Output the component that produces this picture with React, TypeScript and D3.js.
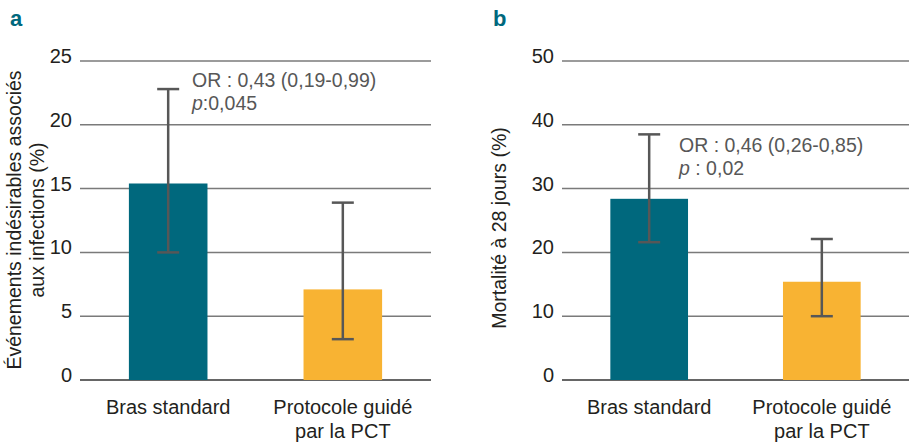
import React from 'react';
import * as d3 from 'd3';

const categories = ['Bras standard', 'Protocole guidé|par la PCT'];
const colors = ['#00687d', '#f8b333'];

const valuesA = [15.4, 7.1];
const lowA = [10.0, 3.2];
const highA = [22.8, 13.9];
const ticksA = [0, 5, 10, 15, 20, 25];

const valuesB = [28.4, 15.4];
const lowB = [21.6, 10.0];
const highB = [38.5, 22.1];
const ticksB = [0, 10, 20, 30, 40, 50];

const FONT = '"Liberation Sans", Arial, Helvetica, sans-serif';
const TEXT = '#231f20';
const GREY = '#575757';

type PanelProps = {
  letter: string;
  letterX: number;
  x0: number;
  x1: number;
  values: number[];
  low: number[];
  high: number[];
  ticks: number[];
  titleLines: string[];
  titleX: number;
  titleY: number;
  note: string[];
  noteX: number;
  noteY: number;
};

function Panel(p: PanelProps) {
  const x = d3.scaleBand().domain(categories).range([p.x0, p.x1]).paddingInner(0.55).paddingOuter(0.28);
  const y = d3.scaleLinear().domain([0, d3.max(p.ticks) as number]).range([380, 61]);
  const cap = 11;

  return (
    <g fontFamily={FONT}>
      <text x={p.letterX} y={26} fill="#00687d" fontSize={22} fontWeight="bold">{p.letter}</text>
      {p.ticks.map(t => (
        <g key={t}>
          <line x1={p.x0} x2={p.x1} y1={y(t)} y2={y(t)} stroke={t === 0 ? '#333' : '#7a7a7a'} strokeWidth={1.5} />
          <text x={p.x0 - 8} y={y(t)} dy="0.1em" textAnchor="end" fontSize={20} fill={TEXT}>{t}</text>
        </g>
      ))}
      {categories.map((c, i) => {
        const bx = x(c) as number;
        const cx = bx + x.bandwidth() / 2;
        return (
          <g key={c}>
            <rect x={bx} y={y(p.values[i])} width={x.bandwidth()} height={y(0) - y(p.values[i])} fill={colors[i]} />
            <line x1={cx} x2={cx} y1={y(p.high[i])} y2={y(p.low[i])} stroke={GREY} strokeWidth={2.5} />
            <line x1={cx - cap} x2={cx + cap} y1={y(p.high[i])} y2={y(p.high[i])} stroke={GREY} strokeWidth={2.5} />
            <line x1={cx - cap} x2={cx + cap} y1={y(p.low[i])} y2={y(p.low[i])} stroke={GREY} strokeWidth={2.5} />
            {c.split('|').map((l, j) => (
              <text key={j} x={cx} y={414 + j * 24} textAnchor="middle" fontSize={20} fill={TEXT}>{l}</text>
            ))}
          </g>
        );
      })}
      <text transform={`translate(${p.titleX},${p.titleY}) rotate(-90)`} textAnchor="middle" fontSize={19.5} fill={TEXT}>
        {p.titleLines.map((l, j) => (
          <tspan key={j} x={0} dy={j === 0 ? 0 : 23}>{l}</tspan>
        ))}
      </text>
      <text x={p.noteX} y={p.noteY} fontSize={19.5} fill={GREY}>{p.note[0]}</text>
      <text x={p.noteX} y={p.noteY + 23} fontSize={19.5} fill={GREY}>
        <tspan fontStyle="italic">p</tspan>{p.note[1]}
      </text>
    </g>
  );
}

export default function App() {
  return (
    <svg width={909} height={443} style={{ position: 'absolute', left: 0, top: 0, background: '#fff' }}>
      <Panel
        letter="a" letterX={10} x0={80} x1={431}
        values={valuesA} low={lowA} high={highA} ticks={ticksA}
        titleLines={['Événements indésirables associés', 'aux infections (%)']}
        titleX={21} titleY={220}
        note={['OR : 0,43 (0,19-0,99)', ':0,045']} noteX={192} noteY={87}
      />
      <Panel
        letter="b" letterX={493} x0={562} x1={909}
        values={valuesB} low={lowB} high={highB} ticks={ticksB}
        titleLines={['Mortalité à 28 jours (%)']}
        titleX={506} titleY={228}
        note={['OR : 0,46 (0,26-0,85)', ' : 0,02']} noteX={679} noteY={152}
      />
    </svg>
  );
}
